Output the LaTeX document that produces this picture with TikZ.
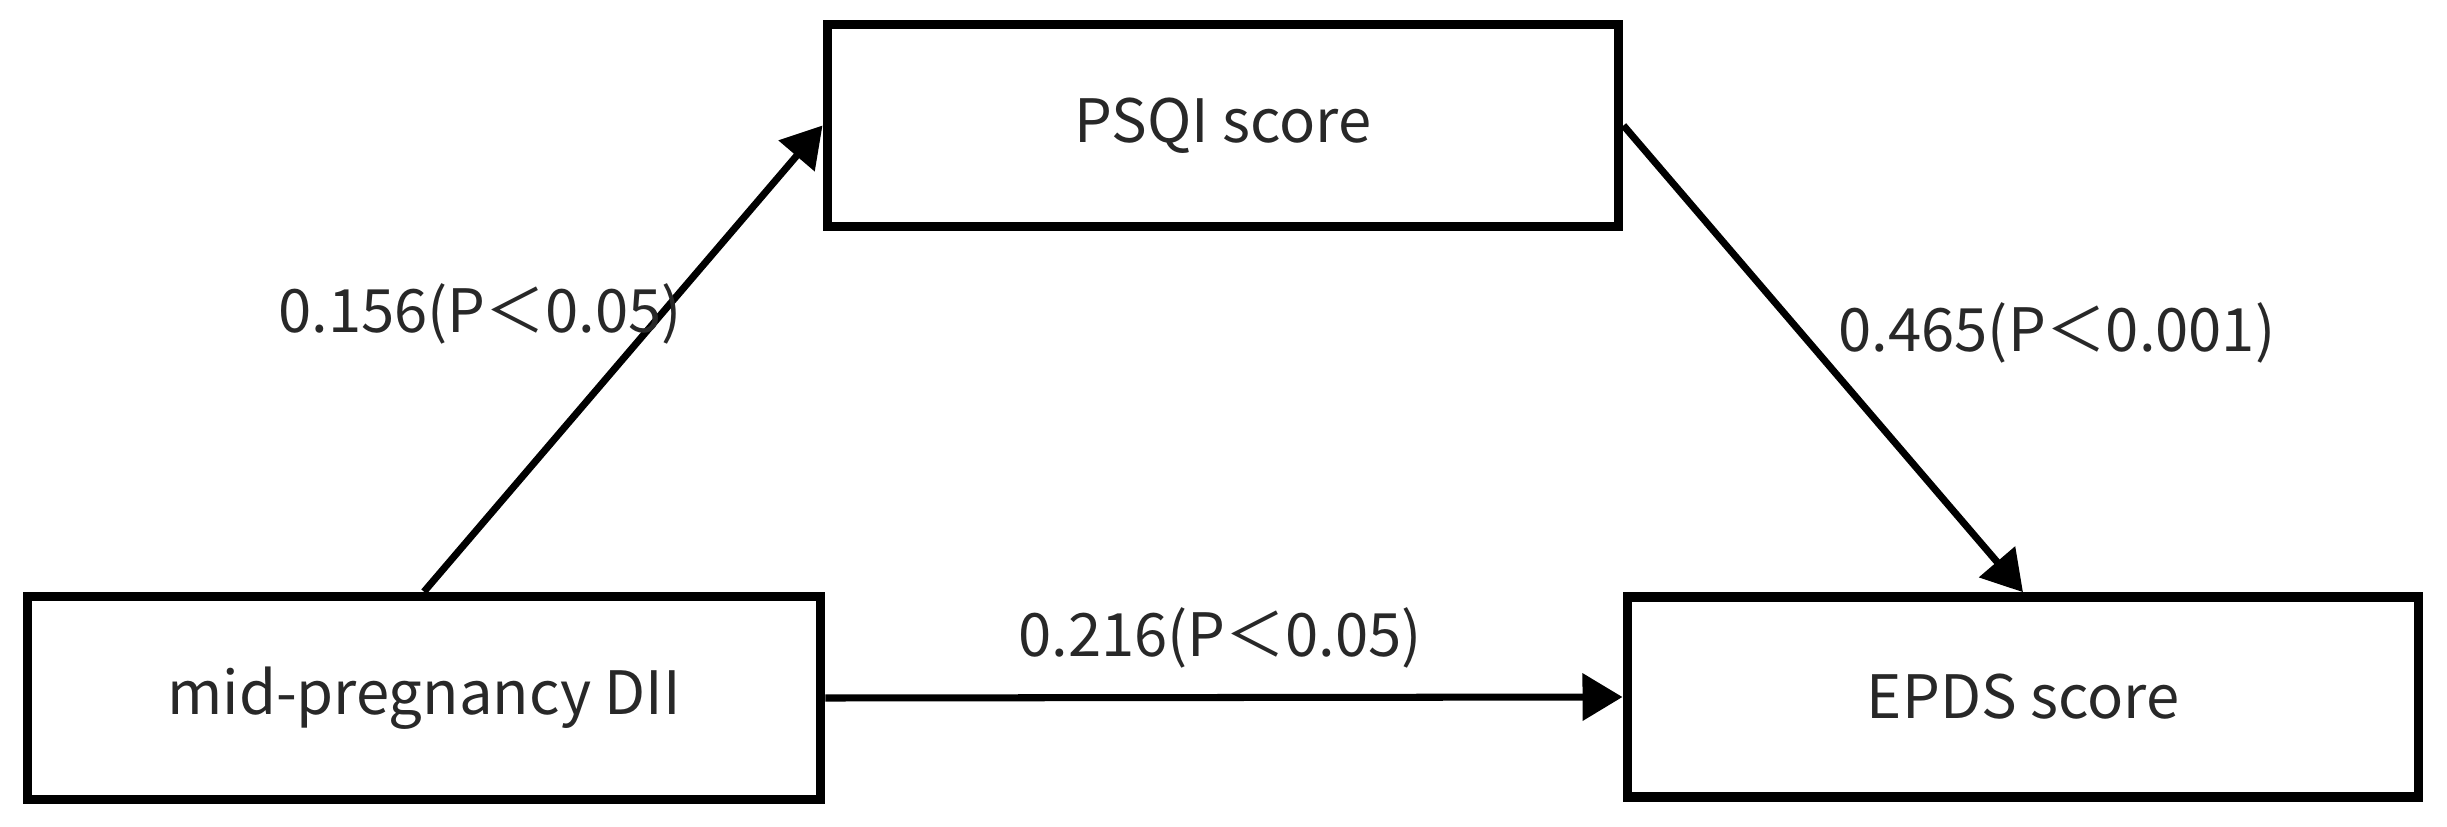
\documentclass[tikz,border=0pt]{standalone}
\usepackage{fontspec}
\setmainfont{Noto Sans CJK SC}
\usetikzlibrary{arrows.meta}
\definecolor{txt}{RGB}{40,40,40}
\tikzset{
  box/.style={draw=black, line width=2.7pt, rectangle, inner sep=0pt, fill=white,
    text=txt, font=\fontsize{17}{20}\selectfont},
  conn/.style={line width=2.0pt, -{Triangle[length=0.4cm,width=0.46cm]}},
  lab/.style={text=txt, font=\fontsize{17}{20}\selectfont, inner sep=0pt}
}
\begin{document}
\begin{tikzpicture}[x=0.01cm,y=-0.01cm]
\useasboundingbox (0,0) rectangle (2447,827);
\node[box, minimum width=7.93cm, minimum height=2.03cm] (dii) at (424,698) {mid-pregnancy DII};
\node[box, minimum width=7.91cm, minimum height=2.02cm] (psqi) at (1223,125.5) {PSQI score};
\node[box, minimum width=7.91cm, minimum height=2.00cm] (epds) at (2023,697) {EPDS score};
\draw[conn] (dii.north) -- (psqi.west);
\draw[conn] (psqi.east) -- (epds.north);
\draw[conn] (dii.east) -- (epds.west);
\node[lab] (l1) at (480,314) {0.156(P＜0.05)};
\node[lab] (l2) at (2057,333) {0.465(P＜0.001)};
\node[lab] (l3) at (1220,638) {0.216(P＜0.05)};
\end{tikzpicture}
\end{document}
